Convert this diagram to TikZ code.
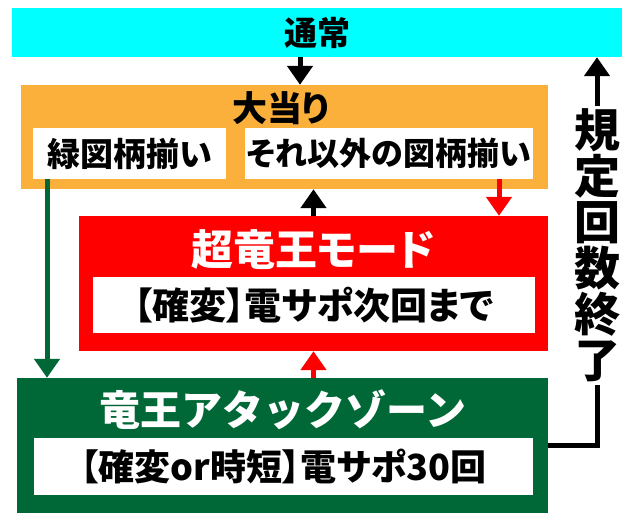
\documentclass[tikz,border=0pt]{standalone}
\usepackage{fontspec}
\setmainfont{Noto Sans CJK JP}[BoldFont=* Black,RawFeature=+palt]
\newfontfamily\fullwidth{Noto Sans CJK JP}[BoldFont=* Black]
\usepackage{xcolor}
\usetikzlibrary{positioning,calc,arrows.meta}
\definecolor{tsujocyan}{HTML}{00FFFF}
\definecolor{atariorange}{HTML}{FBB03B}
\definecolor{choured}{HTML}{FF0000}
\definecolor{attackgreen}{HTML}{006837}
\begin{document}
\begin{tikzpicture}[
x=1pt,y=-1pt,
box/.style={rectangle,inner sep=0pt,font=\bfseries\fontsize{#1}{#1}\selectfont},
box/.default=33,
title/.style={inner sep=0pt,font=\bfseries\fontsize{#1}{#1}\selectfont},
flow/.style={line width=5pt,-{Triangle[width=25pt,length=19pt]}}
]
\useasboundingbox (0,0) rectangle (640,531);
\node [box,fill=tsujocyan,minimum width=610pt,minimum height=49pt] (tsujo) at (317,32.5) {通常};
\node [box,fill=atariorange,minimum width=527pt,minimum height=104pt] (ooatari) at (284.5,137) {};
\node [title=35] (atarilbl) at (281,108) {大当り};
\node [box,fill=white,minimum width=193pt,minimum height=51pt] (midori) at (129.5,153.5) {緑図柄揃い};
\node [box=32,fill=white,minimum width=288pt,minimum height=51pt] (sonota) at (389,153.5) {それ以外の図柄揃い};
\node [box,fill=choured,minimum width=469pt,minimum height=135pt] (chou) at (313.5,283.5) {};
\node [title=42,white] (choulbl) at (313,250) {超竜王モード};
\node [box=37,fill=white,minimum width=442pt,minimum height=56pt] (chouinfo) at (314,305) {【確変】電サポ次回まで};
\node [box,fill=attackgreen,minimum width=531pt,minimum height=135pt] (attack) at (282.5,445.5) {};
\node [title=41,white] (attacklbl) at (283,410) {\fullwidth\bfseries 竜王アタックゾーン};
\node [box=36,fill=white,minimum width=499pt,minimum height=57pt] (attackinfo) at (283.5,466.5) {【確変or時短】電サポ30回};
\node [title=46,align=center,inner sep=3pt] (kitei) at (597,245.5) {規\\定\\回\\数\\終\\了};
\coordinate (start) at (300,0);
% arrows
\draw [flow] (tsujo.south -| start) -- (ooatari.north -| start);
\draw [flow,attackgreen] ([xshift=-82.5pt]midori.south) -- ([xshift=-82.5pt]midori.south |- attack.north);
\draw [flow,choured] ([xshift=110pt]sonota.south) -- ([xshift=110pt]sonota.south |- chou.north);
\draw [flow] (chou.north) -- (chou.north |- ooatari.south);
\draw [flow,choured] (chou.south |- attack.north) -- (chou.south);
\draw [line width=5pt] (attack.east) -| (kitei.south);
\draw [flow] (kitei.north) -- (kitei.north |- tsujo.south);
\end{tikzpicture}
\end{document}
